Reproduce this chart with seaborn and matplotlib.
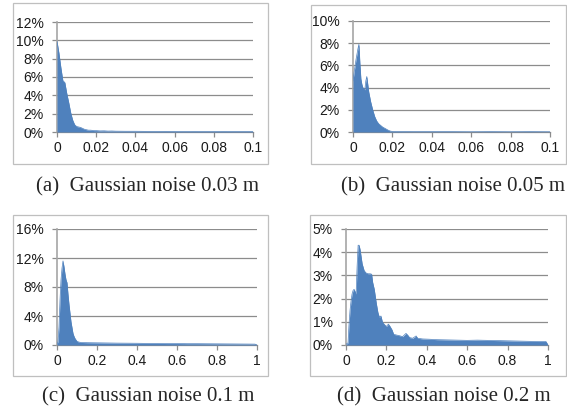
import matplotlib
matplotlib.use('Agg')
import matplotlib.pyplot as plt
from matplotlib.patches import Rectangle
from matplotlib.ticker import PercentFormatter, FuncFormatter, MultipleLocator
import seaborn as sns

# error histograms, values in percent
a_x = [0.000, 0.001, 0.002, 0.003, 0.004, 0.005, 0.006, 0.007, 0.008, 0.009,
       0.010, 0.011, 0.012, 0.013, 0.014, 0.015, 0.016, 0.017, 0.018, 0.019,
       0.020, 0.022, 0.024, 0.026, 0.028, 0.030, 0.035, 0.040, 0.045, 0.050,
       0.055, 0.060, 0.065, 0.070, 0.075, 0.080, 0.085, 0.090, 0.095, 0.100]
a_y = [9.9, 8.6, 7.0, 5.6, 5.4, 4.2, 3.2, 2.1, 1.3, 0.8,
       0.6, 0.55, 0.5, 0.4, 0.3, 0.25, 0.2, 0.2, 0.18, 0.15,
       0.15, 0.12, 0.13, 0.1, 0.11, 0.09, 0.08, 0.08, 0.07, 0.06,
       0.07, 0.06, 0.05, 0.06, 0.05, 0.05, 0.06, 0.05, 0.05, 0.05]

b_x = [0, 0.0005, 0.001, 0.0015, 0.002, 0.0025, 0.003, 0.0035, 0.004, 0.0045,
       0.005, 0.0055, 0.006, 0.0065, 0.007, 0.0075, 0.008,
       0.009, 0.010, 0.011, 0.012, 0.013, 0.014, 0.015, 0.016, 0.017, 0.018, 0.019, 0.020,
       0.025, 0.030, 0.040, 0.050, 0.060, 0.070, 0.080, 0.090, 0.100]
b_y = [4.6, 5.3, 5.9, 6.5, 7.0, 7.5, 7.9, 6.2, 4.8, 4.3,
       4.0, 3.9, 3.8, 4.6, 5.0, 4.3, 3.6,
       2.7, 2.0, 1.4, 1.0, 0.75, 0.6, 0.45, 0.35, 0.25, 0.15, 0.08, 0.05,
       0.04, 0.03, 0.03, 0.03, 0.02, 0.03, 0.02, 0.03, 0.02]

c_x = [0, 0.005, 0.01, 0.015, 0.02, 0.025, 0.03, 0.035, 0.04, 0.045,
       0.05, 0.055, 0.06, 0.065, 0.07, 0.075, 0.08, 0.085, 0.09,
       0.1, 0.11, 0.12, 0.15,
       0.2, 0.25, 0.3, 0.35, 0.4, 0.45, 0.5, 0.55, 0.6, 0.65, 0.7, 0.75, 0.8, 0.85, 0.9, 0.95,
       0.99, 1.0]
c_y = [0, 0.5, 2.5, 6.2, 9.0, 10.6, 11.6, 10.8, 9.8, 9.0,
       8.6, 7.0, 5.6, 4.4, 3.2, 2.4, 1.6, 1.2, 0.9,
       0.5, 0.4, 0.35, 0.32,
       0.3, 0.28, 0.26, 0.25, 0.24, 0.22, 0.22, 0.2, 0.2, 0.18, 0.18, 0.17, 0.16, 0.15, 0.14, 0.13,
       0.12, 0]

d_x = [0, 0.005, 0.01, 0.015, 0.02, 0.025, 0.03, 0.035, 0.04, 0.045,
       0.05, 0.055, 0.06, 0.065, 0.07, 0.075, 0.08, 0.09, 0.1, 0.11,
       0.12, 0.127, 0.132, 0.14, 0.15, 0.158, 0.165, 0.173, 0.18, 0.19,
       0.2, 0.21, 0.218, 0.228, 0.236, 0.25, 0.265, 0.28, 0.297, 0.305,
       0.315, 0.33, 0.347, 0.355, 0.38, 0.41, 0.45, 0.5, 0.55, 0.6,
       0.65, 0.7, 0.75, 0.8, 0.85, 0.9, 0.95, 0.99, 1.0]
d_y = [0.05, 0.05, 0.1, 0.9, 1.5, 1.9, 2.2, 2.35, 2.4, 2.3,
       2.2, 3.4, 4.3, 4.3, 4.1, 3.8, 3.5, 3.2, 3.1, 3.07,
       3.07, 3.05, 2.7, 2.4, 1.8, 1.4, 1.2, 1.25, 1.0, 0.88,
       0.8, 0.9, 0.8, 0.65, 0.46, 0.43, 0.4, 0.36, 0.5, 0.43,
       0.32, 0.29, 0.39, 0.29, 0.26, 0.25, 0.23, 0.22, 0.21, 0.2,
       0.21, 0.2, 0.19, 0.18, 0.17, 0.16, 0.15, 0.15, 0]

captions = ['(a)  Gaussian noise 0.03 m', '(b)  Gaussian noise 0.05 m',
            '(c)  Gaussian noise 0.1 m', '(d)  Gaussian noise 0.2 m']

BLUE = '#4F81BD'
GRID = '#8C8C8C'

sns.set_style('white')
plt.rcParams['font.family'] = ['Liberation Sans', 'DejaVu Sans']

W, H = 567, 418
fig = plt.figure(figsize=(W / 100, H / 100), dpi=100)


def px_axes(l, t, r, b):
    return fig.add_axes([l / W, 1 - b / H, (r - l) / W, (b - t) / H])


panels = [
    # x, y, axes box (l, t, r, b), frame box, xmax, xstep, ymax, ystep, caption pos
    (a_x, a_y, (57, 22, 253, 132), (13, 3, 268, 164), 0.1, 0.02, 12, 2, (148, 191)),
    (b_x, b_y, (353, 21, 550, 132), (311, 5, 566, 164), 0.1, 0.02, 10, 2, (453, 191)),
    (c_x, c_y, (57, 229, 257, 345), (13, 215, 268, 376), 1.0, 0.2, 16, 4, (148, 401)),
    (d_x, d_y, (346, 229, 548, 345), (310, 215, 566, 376), 1.0, 0.2, 5, 1, (444, 401)),
]

for i, (xs, ys, box, frame, xmax, xstep, ymax, ystep, cap) in enumerate(panels):
    # chart-area border
    fl, ft, fr, fb = frame
    fig.patches.append(Rectangle((fl / W, 1 - fb / H), (fr - fl) / W, (fb - ft) / H,
                                 transform=fig.transFigure, fill=False,
                                 edgecolor='#BFBFBF', linewidth=0.9))
    ax = px_axes(*box)
    ax.fill_between(xs, ys, 0, color=BLUE, linewidth=0, zorder=3)
    sns.lineplot(x=xs, y=ys, ax=ax, color=BLUE, linewidth=0.5, zorder=3)
    ax.set_xlim(0, xmax)
    ax.set_ylim(0, ymax)
    ax.xaxis.set_major_locator(MultipleLocator(xstep))
    ax.yaxis.set_major_locator(MultipleLocator(ystep))
    ax.xaxis.set_major_formatter(FuncFormatter(lambda v, p: '%g' % round(v, 4)))
    ax.yaxis.set_major_formatter(PercentFormatter(xmax=100, decimals=0))
    ax.grid(axis='y', color=GRID, linewidth=0.9)
    ax.set_axisbelow(True)
    for s in ['top', 'right']:
        ax.spines[s].set_visible(False)
    ax.spines['left'].set_color('#A6A6A6')
    ax.spines['left'].set_linewidth(1.2)
    ax.spines['bottom'].set_color(GRID)
    ax.spines['bottom'].set_linewidth(0.9)
    ax.tick_params(axis='x', length=3.5, width=0.9, color=GRID, pad=3,
                   labelsize=10, labelcolor='#1a1a1a', direction='out', bottom=True)
    ax.tick_params(axis='y', length=3.5, width=0.9, color=GRID, pad=6,
                   labelsize=10, labelcolor='#1a1a1a', direction='out', left=True)
    fig.text(cap[0] / W, 1 - cap[1] / H, captions[i], ha='center', va='baseline',
             fontsize=15, family=['Liberation Serif', 'DejaVu Serif'])

fig.savefig('out.png', dpi=100)
